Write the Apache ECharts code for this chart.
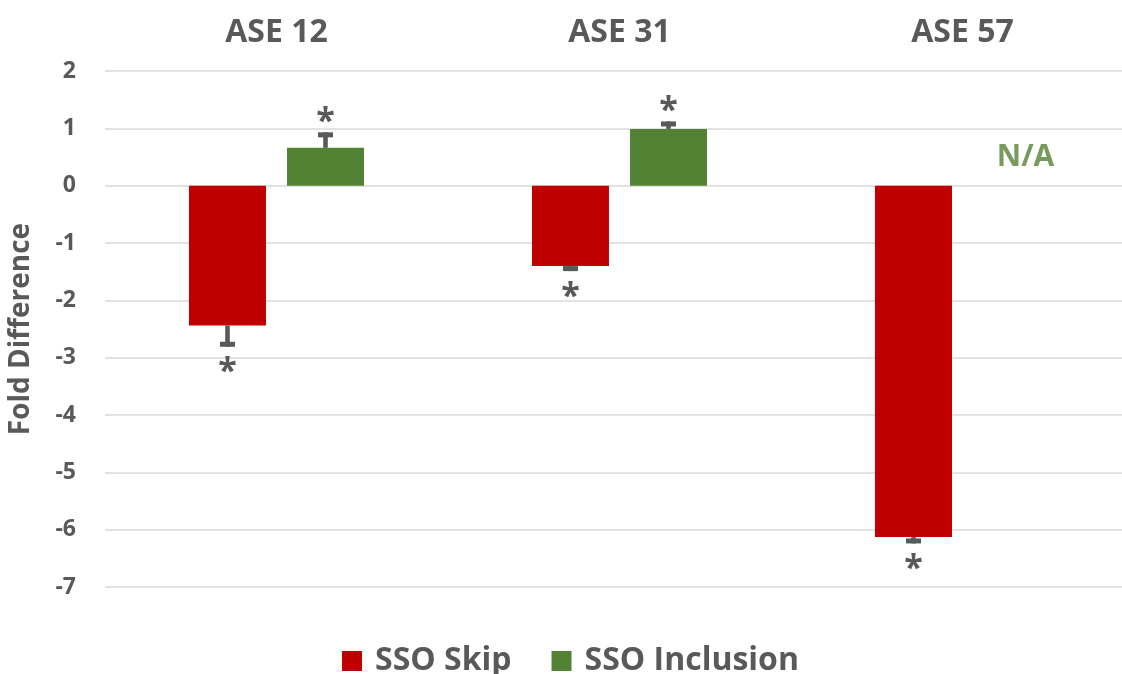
<!DOCTYPE html>
<html>
<head>
<meta charset="utf-8">
<script src="https://cdn.jsdelivr.net/npm/echarts@6/dist/echarts.min.js"></script>
<style>
  html, body { margin: 0; padding: 0; background: #ffffff; }
  #chart { width: 1122px; height: 674px; }
</style>
</head>
<body>
<div id="chart"></div>
<script>
// Exons and measured fold differences
const categories = ['ASE 12', 'ASE 31', 'ASE 57'];
const skipValues = [-2.44, -1.40, -6.13];
const skipErrors = [0.37, 0.09, 0.11];
const inclusionValues = [0.66, 0.99, null];
const inclusionErrors = [0.27, 0.13, null];
const skipSignificant = [true, true, true];
const inclusionSignificant = [true, true, false];
const naLabel = { category: 'ASE 57', value: 0.49, text: 'N/A' };

// Axis range
const yMin = -7;
const yMax = 2;
const yStep = 1;

// Styling
const RED = '#C00000';
const GREEN = '#548235';
const GREY = '#595959';
const FONT = '"Open Sans", Lato, sans-serif';
const BAR_W = 77;
const BAR_GAP = 21;

const chart = echarts.init(document.getElementById('chart'), null, { renderer: 'canvas' });

// One-sided error bar (stem + cap) with an optional significance star
function errorBars(name, values, errors, signif, side) {
  const data = [];
  values.forEach((v, i) => {
    if (v !== null && errors[i] !== null) data.push([i, v, errors[i], signif[i] ? 1 : 0]);
  });
  return {
    type: 'custom',
    name: name,
    silent: true,
    z: 5,
    encode: { x: 0, y: 1 },
    data: data,
    renderItem: function (params, api) {
      const i = api.value(0);
      const v = api.value(1);
      const e = api.value(2);
      const sig = api.value(3);
      const dir = v < 0 ? 1 : -1; // pixel direction away from zero
      const base = api.coord([i, v]);
      const tip = api.coord([i, v + (v < 0 ? -e : e)]);
      const x = base[0] + side * (BAR_W + BAR_GAP) / 2;
      const capH = 5;
      const children = [
        {
          type: 'rect',
          shape: { x: x - 2.3, y: Math.min(base[1], tip[1]), width: 4.6, height: Math.abs(tip[1] - base[1]) },
          style: { fill: GREY }
        },
        {
          type: 'rect',
          shape: { x: x - 7.5, y: dir > 0 ? tip[1] - capH : tip[1], width: 15, height: capH },
          style: { fill: GREY }
        }
      ];
      if (sig) {
        children.push({
          type: 'text',
          style: {
            text: '*',
            x: x,
            y: dir > 0 ? tip[1] + 26 : tip[1] - 10,
            align: 'center',
            verticalAlign: 'middle',
            fill: GREY,
            font: 'bold 34px ' + FONT
          }
        });
      }
      return { type: 'group', children: children };
    }
  };
}

chart.setOption({
  animation: false,
  backgroundColor: '#ffffff',
  grid: {
    left: 105,
    top: 71,
    width: 1029,
    height: 516,
    outerBoundsMode: 'none',
    containLabel: false
  },
  legend: {
    data: ['SSO Skip', 'SSO Inclusion'],
    left: 337,
    top: 640,
    icon: 'rect',
    itemWidth: 20,
    itemHeight: 20,
    itemGap: 40,
    textStyle: { color: GREY, fontSize: 32, fontWeight: 'bold', fontFamily: FONT, padding: [0, 0, 0, 8] }
  },
  xAxis: {
    type: 'category',
    data: categories,
    position: 'top',
    axisLine: { show: false },
    axisTick: { show: false },
    splitLine: { show: false },
    axisLabel: { color: GREY, fontSize: 32, fontWeight: 'bold', fontFamily: FONT, margin: 22 }
  },
  yAxis: {
    type: 'value',
    min: yMin,
    max: yMax,
    interval: yStep,
    name: 'Fold Difference',
    nameLocation: 'middle',
    nameGap: 70,
    nameTextStyle: { color: GREY, fontSize: 28, fontWeight: 'bold', fontFamily: FONT },
    axisLine: { show: false },
    axisTick: { show: false },
    splitLine: { lineStyle: { color: '#d9d9d9', width: 1.6 } },
    axisLabel: { color: GREY, fontSize: 23, fontWeight: 'bold', fontFamily: FONT, margin: 29 }
  },
  series: [
    {
      name: 'SSO Skip',
      type: 'bar',
      data: skipValues,
      barWidth: BAR_W,
      barGap: (BAR_GAP / BAR_W * 100).toFixed(1) + '%',
      itemStyle: { color: RED }
    },
    {
      name: 'SSO Inclusion',
      type: 'bar',
      data: inclusionValues,
      barWidth: BAR_W,
      itemStyle: { color: GREEN }
    },
    errorBars('SSO Skip error', skipValues, skipErrors, skipSignificant, -1),
    errorBars('SSO Inclusion error', inclusionValues, inclusionErrors, inclusionSignificant, 1),
    {
      name: 'not available',
      type: 'scatter',
      silent: true,
      symbolSize: 0,
      data: [[naLabel.category, naLabel.value]],
      label: {
        show: true,
        position: 'inside',
        offset: [63, 0],
        formatter: naLabel.text,
        color: GREEN,
        fontSize: 30,
        fontWeight: 'bold',
        fontFamily: FONT
      }
    }
  ]
});
</script>
</body>
</html>
